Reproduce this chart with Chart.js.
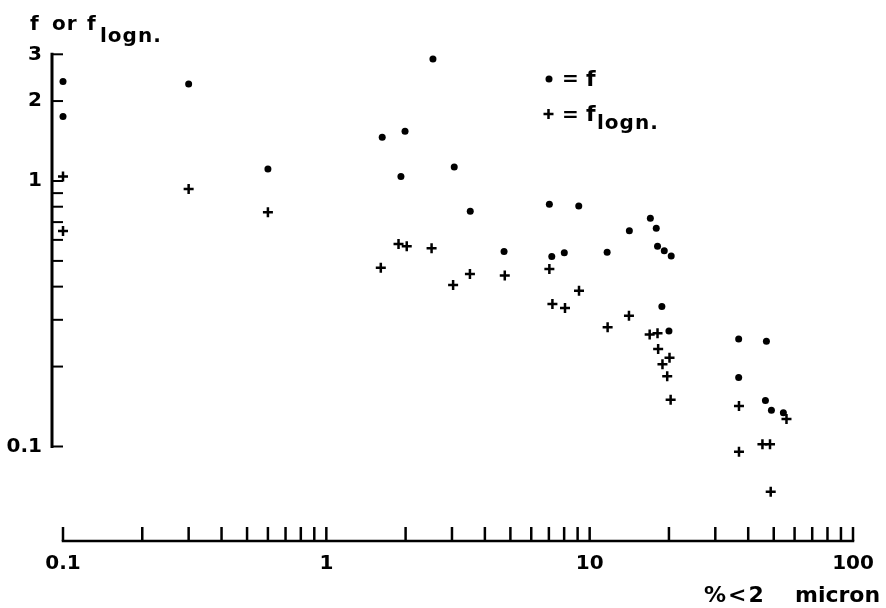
<!DOCTYPE html>
<html>
<head>
<meta charset="utf-8">
<title>f and f logn. vs % < 2 micron</title>
<script src="https://cdn.jsdelivr.net/npm/chart.js"></script>
<style>
  html, body { margin: 0; padding: 0; background: #fff; }
  #chart { display: block; }
</style>
</head>
<body>
<canvas id="chart" width="886" height="608"></canvas>
<script>
// f (dots)
const fX = [0.1, 0.1, 0.3, 0.6, 2.54, 1.63, 1.99, 1.92, 3.06, 3.52, 4.73, 7.03, 9.09, 7.18, 8.01,
  11.65, 14.15, 17.0, 17.9, 18.1, 19.2, 20.4, 18.8, 20.0, 36.8, 46.9, 36.8, 46.5, 49.0, 54.4];
const fY = [2.37, 1.75, 2.32, 1.11, 2.88, 1.46, 1.54, 1.04, 1.13, 0.769, 0.543, 0.817, 0.805, 0.519, 0.537,
  0.539, 0.650, 0.724, 0.663, 0.568, 0.546, 0.522, 0.337, 0.272, 0.254, 0.249, 0.182, 0.149, 0.137, 0.134];

// f logn. (crosses)
const flogX = [0.1, 0.1, 0.3, 0.6, 1.88, 2.02, 2.51, 1.61, 3.03, 3.51, 4.76, 7.03, 7.22, 8.06, 9.11,
  11.7, 14.1, 16.9, 18.1, 18.2, 20.1, 18.9, 19.7, 20.3, 36.9, 55.9, 36.9, 45.3, 48.4, 48.7];
const flogY = [1.04, 0.648, 0.933, 0.762, 0.579, 0.568, 0.558, 0.471, 0.406, 0.446, 0.441, 0.466, 0.344, 0.332, 0.386,
  0.281, 0.311, 0.264, 0.267, 0.233, 0.216, 0.204, 0.184, 0.150, 0.142, 0.127, 0.0956, 0.102, 0.102, 0.0676];

// axes
const xTicks = [0.1, 0.2, 0.3, 0.4, 0.5, 0.6, 0.7, 0.8, 0.9, 1, 2, 3, 4, 5, 6, 7, 8, 9,
  10, 20, 30, 40, 50, 60, 70, 80, 90, 100];
const xLabels = [0.1, 1, 10, 100];
const yTicks = [0.1, 0.2, 0.3, 0.4, 0.5, 0.6, 0.7, 0.8, 0.9, 1, 2, 3];
const yLabels = [0.1, 1, 2, 3];

const FONT = '"DejaVu Sans", sans-serif';

// axis lines and inward tick marks, titles and the key
const paperAxes = {
  id: 'paperAxes',
  afterDraw(chart) {
    const { ctx, chartArea } = chart;
    const x = chart.scales.x;
    const y = chart.scales.y;
    const yAxisX = x.getPixelForValue(xTicks[0]) - 11;
    const xAxisY = chartArea.bottom;

    ctx.save();
    ctx.strokeStyle = '#000';
    ctx.fillStyle = '#000';

    // y axis
    ctx.lineWidth = 3;
    ctx.lineCap = 'square';
    ctx.beginPath();
    ctx.moveTo(yAxisX, y.getPixelForValue(yTicks[yTicks.length - 1]));
    ctx.lineTo(yAxisX, y.getPixelForValue(yTicks[0]));
    ctx.stroke();
    ctx.lineWidth = 2;
    ctx.lineCap = 'butt';
    yTicks.forEach(v => {
      const py = y.getPixelForValue(v);
      ctx.beginPath();
      ctx.moveTo(yAxisX, py);
      ctx.lineTo(yAxisX + 11, py);
      ctx.stroke();
    });

    // x axis
    ctx.lineWidth = 2.5;
    ctx.lineCap = 'square';
    ctx.beginPath();
    ctx.moveTo(x.getPixelForValue(xTicks[0]), xAxisY);
    ctx.lineTo(x.getPixelForValue(xTicks[xTicks.length - 1]), xAxisY);
    ctx.stroke();
    ctx.lineWidth = 2.5;
    ctx.lineCap = 'butt';
    xTicks.forEach(v => {
      const px = x.getPixelForValue(v);
      ctx.beginPath();
      ctx.moveTo(px, xAxisY);
      ctx.lineTo(px, xAxisY - 14);
      ctx.stroke();
    });

    // y title: f or f_logn.
    ctx.textAlign = 'left';
    ctx.textBaseline = 'alphabetic';
    ctx.font = 'bold 20px ' + FONT;
    ctx.letterSpacing = '1px';
    ctx.fillText('f', 30, 30);
    ctx.fillText('or', 52, 30);
    ctx.fillText('f', 87, 30);
    ctx.fillText('logn.', 100, 42);

    // x title
    ctx.font = 'bold 22px ' + FONT;
    ctx.letterSpacing = '2px';
    ctx.fillText('%<2', 704, 602);
    ctx.letterSpacing = '0px';
    ctx.fillText('micron', 795, 602);

    // key
    ctx.beginPath();
    ctx.arc(549, 79, 3.5, 0, Math.PI * 2);
    ctx.fill();
    ctx.lineWidth = 2.5;
    ctx.beginPath();
    ctx.moveTo(543.5, 114); ctx.lineTo(553.5, 114);
    ctx.moveTo(548.5, 109); ctx.lineTo(548.5, 119);
    ctx.stroke();
    ctx.font = 'bold 20px ' + FONT;
    ctx.fillText('=', 562, 85);
    ctx.fillText('=', 562, 121);
    ctx.font = 'bold 22px ' + FONT;
    ctx.fillText('f', 586, 86);
    ctx.fillText('f', 586, 121);
    ctx.font = 'bold 20px ' + FONT;
    ctx.letterSpacing = '1px';
    ctx.fillText('logn.', 597, 129);
    ctx.restore();
  }
};

const ctx = document.getElementById('chart').getContext('2d');

const chart = new Chart(ctx, {
  type: 'scatter',
  data: {
    datasets: [
      {
        label: 'f',
        data: fX.map((v, i) => ({ x: v, y: fY[i] })),
        pointStyle: 'circle',
        pointRadius: 3.5,
        backgroundColor: '#000',
        borderColor: '#000',
        borderWidth: 0,
        clip: false
      },
      {
        label: 'f logn.',
        data: flogX.map((v, i) => ({ x: v, y: flogY[i] })),
        pointStyle: 'cross',
        pointRadius: 5,
        backgroundColor: '#000',
        borderColor: '#000',
        borderWidth: 2.5,
        clip: false
      }
    ]
  },
  options: {
    responsive: false,
    animation: false,
    devicePixelRatio: 1,
    events: [],
    layout: {
      padding: { top: 50, right: 33, bottom: 0, left: 0 }
    },
    plugins: {
      legend: { display: false },
      tooltip: { enabled: false }
    },
    scales: {
      x: {
        type: 'logarithmic',
        position: 'bottom',
        min: 0.1,
        max: 100,
        afterBuildTicks: scale => { scale.ticks = xTicks.map(v => ({ value: v })); },
        afterFit: scale => { scale.height = 67; },
        grid: { display: false, drawTicks: false },
        border: { display: false },
        ticks: {
          autoSkip: false,
          maxRotation: 0,
          padding: 11,
          color: '#000',
          font: { family: FONT, size: 20, weight: 'bold' },
          callback: value => xLabels.includes(value) ? String(value) : ''
        }
      },
      y: {
        type: 'logarithmic',
        position: 'left',
        min: 0.04406,
        max: 3.114,
        afterBuildTicks: scale => { scale.ticks = yTicks.map(v => ({ value: v })); },
        afterFit: scale => { scale.width = 63; },
        grid: { display: false, drawTicks: false },
        border: { display: false },
        ticks: {
          autoSkip: false,
          padding: 21,
          color: '#000',
          font: { family: FONT, size: 20, weight: 'bold' },
          callback: value => yLabels.includes(value) ? String(value) : ''
        }
      }
    }
  },
  plugins: [paperAxes]
});
</script>
</body>
</html>
